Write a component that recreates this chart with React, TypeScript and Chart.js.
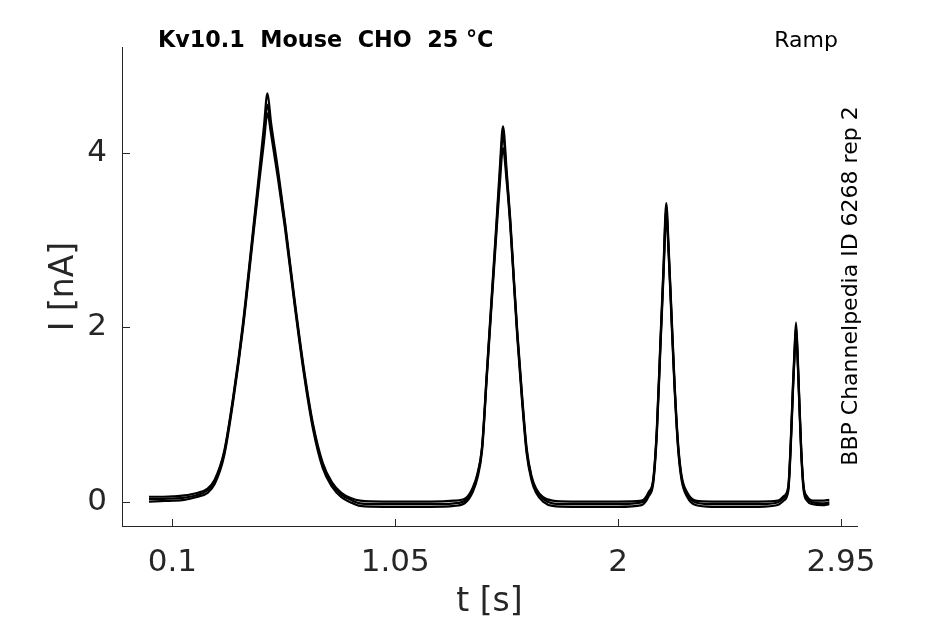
import React, { useEffect, useRef } from "react";
import { Chart, registerables } from "chart.js";
import type { Plugin } from "chart.js";

Chart.register(...registerables);

// time base shared by the overlaid sweeps, seconds
const TIME_S = [
  0, 0.05, 0.1, 0.15, 0.2, 0.25, 0.28, 0.32, 0.36, 0.4, 0.44, 0.47, 0.49, 0.505, 0.52, 0.55, 0.58, 0.62, 0.66, 0.7,
  0.74, 0.78, 0.82, 0.86, 0.9, 1.0, 1.1, 1.2, 1.3, 1.35,
  1.38, 1.4, 1.42, 1.44, 1.46, 1.48, 1.495, 1.509, 1.525, 1.54, 1.555, 1.57, 1.59, 1.61, 1.63, 1.65, 1.68, 1.72,
  1.8, 1.9, 2.0, 2.1,
  2.13, 2.15, 2.165, 2.18, 2.193, 2.205, 2.215, 2.228, 2.24, 2.255, 2.27, 2.295, 2.33, 2.4, 2.5, 2.6, 2.68,
  2.705, 2.725, 2.735, 2.745, 2.752, 2.758, 2.764, 2.771, 2.78, 2.79, 2.805, 2.83, 2.87, 2.9,
];

// current, nA (three repeated sweeps)
const SWEEP_1 = [
  0.055, 0.055, 0.06, 0.07, 0.095, 0.15, 0.25, 0.57, 1.22, 2.03, 3.02, 3.78, 4.3, 4.68, 4.35, 3.8, 3.2, 2.33, 1.53, 0.88,
  0.45, 0.22, 0.1, 0.04, 0.01, 0.0, 0.0, 0.0, 0.01, 0.04,
  0.16, 0.32, 0.64, 1.48, 2.32, 3.15, 3.8, 4.3, 3.78, 3.24, 2.58, 1.95, 1.23, 0.61, 0.3, 0.15, 0.05, 0.01,
  0.0, 0.0, 0.0, 0.01,
  0.11, 0.27, 0.85, 1.84, 2.68, 3.42, 2.92, 2.12, 1.38, 0.68, 0.3, 0.1, 0.01, 0.0, 0.0, 0.0, 0.01,
  0.06, 0.17, 0.65, 1.34, 1.76, 2.05, 1.76, 1.25, 0.62, 0.19, 0.06, 0.01, 0.01, 0.02,
];

const SWEEP_2 = [
  0.03, 0.03, 0.035, 0.045, 0.07, 0.13, 0.23, 0.55, 1.2, 2.0, 2.98, 3.72, 4.2, 4.55, 4.28, 3.75, 3.17, 2.3, 1.5, 0.85,
  0.42, 0.2, 0.08, 0.02, -0.02, -0.03, -0.03, -0.03, -0.02, 0.02,
  0.14, 0.3, 0.62, 1.45, 2.28, 3.1, 3.72, 4.2, 3.72, 3.2, 2.55, 1.92, 1.2, 0.58, 0.28, 0.13, 0.03, -0.02,
  -0.03, -0.03, -0.03, -0.01,
  0.09, 0.25, 0.82, 1.8, 2.63, 3.35, 2.88, 2.08, 1.35, 0.65, 0.28, 0.08, -0.01, -0.03, -0.03, -0.03, -0.01,
  0.04, 0.15, 0.62, 1.3, 1.72, 2.0, 1.72, 1.22, 0.6, 0.17, 0.04, -0.01, -0.02, -0.01,
];

const SWEEP_3 = [
  0.0, 0.005, 0.01, 0.02, 0.05, 0.1, 0.2, 0.52, 1.17, 1.97, 2.94, 3.66, 4.12, 4.45, 4.22, 3.7, 3.13, 2.27, 1.47, 0.82,
  0.39, 0.17, 0.05, -0.01, -0.05, -0.06, -0.06, -0.06, -0.05, -0.01,
  0.11, 0.27, 0.59, 1.42, 2.24, 3.04, 3.62, 4.05, 3.66, 3.16, 2.52, 1.88, 1.16, 0.55, 0.25, 0.1, 0.0, -0.05,
  -0.06, -0.06, -0.06, -0.04,
  0.06, 0.22, 0.78, 1.76, 2.58, 3.28, 2.84, 2.04, 1.32, 0.62, 0.25, 0.05, -0.04, -0.06, -0.06, -0.06, -0.04,
  0.01, 0.12, 0.58, 1.26, 1.68, 1.95, 1.68, 1.19, 0.57, 0.14, 0.01, -0.03, -0.04, -0.03,
];

const X_TICKS = [0.1, 1.05, 2, 2.95];
const Y_TICKS = [0, 2, 4];

const TITLE = "Kv10.1  Mouse  CHO  25 °C";
const PROTOCOL = "Ramp";
const SOURCE = "BBP Channelpedia ID 6268 rep 2";

const FONT = "'DejaVu Sans', sans-serif";
const INK = "#262626";

// inward tick marks plus the free-floating labels
const annotations: Plugin<"line"> = {
  id: "annotations",
  afterDraw(chart) {
    const { ctx, chartArea } = chart;
    const xs = chart.scales.x;
    const ys = chart.scales.y;
    ctx.save();
    ctx.strokeStyle = INK;
    ctx.lineWidth = 1;
    ctx.beginPath();
    xs.ticks.forEach((t) => {
      const px = Math.round(xs.getPixelForValue(t.value)) + 0.5;
      ctx.moveTo(px, chartArea.bottom);
      ctx.lineTo(px, chartArea.bottom - 7);
    });
    ys.ticks.forEach((t) => {
      const py = Math.round(ys.getPixelForValue(t.value)) + 0.5;
      ctx.moveTo(chartArea.left, py);
      ctx.lineTo(chartArea.left + 8, py);
    });
    ctx.stroke();

    ctx.fillStyle = "#000";
    ctx.textBaseline = "alphabetic";
    ctx.font = `bold 22.3px ${FONT}`;
    ctx.textAlign = "left";
    ctx.fillText(TITLE, 158, 47);
    ctx.font = `22px ${FONT}`;
    ctx.textAlign = "right";
    ctx.fillText(PROTOCOL, 838, 47);

    ctx.translate(857, 286);
    ctx.rotate(-Math.PI / 2);
    ctx.textAlign = "center";
    ctx.fillText(SOURCE, 0, 0);
    ctx.restore();
  },
};

const App: React.FC = () => {
  const canvasRef = useRef<HTMLCanvasElement>(null);
  const chartRef = useRef<Chart | null>(null);

  useEffect(() => {
    document.body.style.margin = "0";
    if (!canvasRef.current) return;

    if (chartRef.current) {
      chartRef.current.destroy();
      chartRef.current = null;
    }

    const sweeps = [SWEEP_1, SWEEP_2, SWEEP_3];

    chartRef.current = new Chart(canvasRef.current, {
      type: "line",
      data: {
        datasets: sweeps.map((sweep, k) => ({
          label: `sweep ${k + 1}`,
          data: TIME_S.map((t, i) => ({ x: t, y: sweep[i] })),
          borderColor: "#000",
          borderWidth: 2.2,
          pointRadius: 0,
          cubicInterpolationMode: "monotone" as const,
          fill: false,
        })),
      },
      options: {
        animation: false,
        responsive: false,
        layout: { padding: { top: 47, right: 88, left: 0, bottom: 0 } },
        plugins: {
          legend: { display: false },
          tooltip: { enabled: false },
        },
        scales: {
          x: {
            type: "linear",
            min: -0.115,
            max: 3.018,
            afterBuildTicks: (scale) => {
              scale.ticks = X_TICKS.map((value) => ({ value }));
            },
            afterFit: (scale) => {
              scale.height = 98;
            },
            grid: { display: false },
            border: { display: true, color: INK, width: 1 },
            ticks: {
              autoSkip: false,
              maxRotation: 0,
              padding: 10,
              color: INK,
              font: { family: FONT, size: 31 },
              callback: (v) => String(v),
            },
            title: {
              display: true,
              text: "t [s]",
              color: INK,
              font: { family: FONT, size: 33 },
              padding: { top: 0, bottom: 2 },
            },
          },
          y: {
            type: "linear",
            min: -0.28,
            max: 5.21,
            afterBuildTicks: (scale) => {
              scale.ticks = Y_TICKS.map((value) => ({ value }));
            },
            afterFit: (scale) => {
              scale.width = 122;
            },
            grid: { display: false },
            border: { display: true, color: INK, width: 1 },
            ticks: {
              autoSkip: false,
              padding: 7,
              color: INK,
              font: { family: FONT, size: 31 },
              callback: (v) => String(v),
            },
            title: {
              display: true,
              text: "I [nA]",
              color: INK,
              font: { family: FONT, size: 33 },
              padding: { top: 45, bottom: 0 },
            },
          },
        },
      },
      plugins: [annotations],
    });

    return () => {
      if (chartRef.current) {
        chartRef.current.destroy();
        chartRef.current = null;
      }
    };
  }, []);

  return (
    <div style={{ width: 945, height: 624, background: "#fff" }}>
      <canvas ref={canvasRef} width={945} height={624}></canvas>
    </div>
  );
};

export default App;
